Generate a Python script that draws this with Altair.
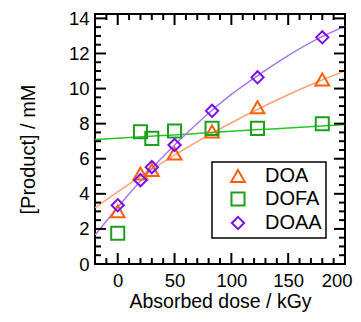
import altair as alt
import pandas as pd

# ---- data ----
series = ["DOA", "DOFA", "DOAA"]
dose = [0, 20, 30, 50, 83, 123, 180]
doa = [3.0, 5.15, 5.35, 6.3, 7.55, 8.93, 10.52]
dofa = [1.75, 7.54, 7.16, 7.58, 7.73, 7.73, 8.0]
doaa = [3.35, 4.78, 5.52, 6.78, 8.73, 10.64, 12.92]

fit_x = [-20, 0, 25, 50, 75, 100, 125, 150, 175, 200]
fit_doa = [3.2, 4.11, 5.19, 6.21, 7.16, 8.05, 8.88, 9.65, 10.36, 11.0]
fit_dofa = [7.09, 7.17, 7.27, 7.36, 7.46, 7.56, 7.66, 7.75, 7.85, 7.95]
fit_doaa = [1.65, 3.24, 5.09, 6.78, 8.31, 9.67, 10.82, 11.88, 12.8, 13.55]

x_labels = [0, 50, 100, 150, 200]
y_labels = [0, 2, 4, 6, 8, 10, 12, 14]
x_major = [0, 50, 100, 150]
x_minor = [v for v in range(-10, 200, 10) if v % 50 != 0]
y_major = [2, 4, 6, 8, 10, 12, 14]
y_minor = [v / 2 for v in range(1, 29) if v % 4 != 0]

marker_colors = ["#FF5F0A", "#1E9E1E", "#7A10F0"]
line_colors = ["#FFA27A", "#22C822", "#A57AF0"]
shapes = ["triangle-up", "square", "diamond"]
sizes = [190, 150, 560]

FONT = "Liberation Sans"
W, H = 250, 250

xscale = alt.Scale(domain=[-20, 200], nice=False, zero=False)
yscale = alt.Scale(domain=[0, 14.25], nice=False, zero=False)

xaxis = alt.Axis(values=x_labels, title="Absorbed dose / kGy",
                 tickSize=0, domain=False, grid=False, labelPadding=7,
                 labelFontSize=18.5, titleFontSize=19.5, labelFont=FONT, titleFont=FONT,
                 labelColor="black", titleColor="black", titleFontWeight="normal",
                 titlePadding=3, labelFlush=True, labelFlushOffset=7)
yaxis = alt.Axis(values=y_labels, title="[Product] / mM",
                 tickSize=0, domain=False, grid=False, labelPadding=6,
                 labelFontSize=18.5, titleFontSize=20, labelFont=FONT, titleFont=FONT,
                 labelColor="black", titleColor="black", titleFontWeight="normal",
                 titlePadding=30, titleY=H / 2 + 10, labelFlush=False)

pts = pd.DataFrame({
    "dose": dose * 3,
    "value": doa + dofa + doaa,
    "series": ["DOA"] * len(dose) + ["DOFA"] * len(dose) + ["DOAA"] * len(dose),
})

layers = []
for ys, col in zip([fit_doa, fit_dofa, fit_doaa], line_colors):
    d = pd.DataFrame({"dose": fit_x, "value": ys})
    layers.append(
        alt.Chart(d).mark_line(color=col, strokeWidth=1.5, interpolate="monotone", clip=True).encode(
            x=alt.X("dose:Q", scale=xscale, axis=xaxis),
            y=alt.Y("value:Q", scale=yscale, axis=yaxis),
        )
    )

points = alt.Chart(pts).mark_point(filled=False, strokeWidth=2, opacity=1).encode(
    x=alt.X("dose:Q", scale=xscale, axis=xaxis),
    y=alt.Y("value:Q", scale=yscale, axis=yaxis),
    color=alt.Color("series:N", scale=alt.Scale(domain=series, range=marker_colors), title=None),
    shape=alt.Shape("series:N", scale=alt.Scale(domain=series, range=shapes), title=None),
    size=alt.Size("series:N", scale=alt.Scale(domain=series, range=sizes), title=None),
)

def xticks(vals, length, top):
    d = pd.DataFrame({"dose": vals})
    y1, y2 = (0, length) if top else (H, H - length)
    return alt.Chart(d).mark_rule(color="black", strokeWidth=2).encode(
        x=alt.X("dose:Q", scale=xscale, axis=xaxis), y=alt.value(y1), y2=alt.value(y2))

def yticks(vals, length, right):
    d = pd.DataFrame({"value": vals})
    x1, x2 = (W, W - length) if right else (0, length)
    return alt.Chart(d).mark_rule(color="black", strokeWidth=2).encode(
        y=alt.Y("value:Q", scale=yscale, axis=yaxis), x=alt.value(x1), x2=alt.value(x2))

ticks = [
    xticks(x_major, 11, False), xticks(x_minor, 6, False),
    xticks(x_major, 11, True), xticks(x_minor, 6, True),
    yticks(y_major, 11, False), yticks(y_minor, 6, False),
    yticks(y_major, 11, True), yticks(y_minor, 6, True),
]

chart = alt.layer(*layers, *ticks, points).properties(
    width=W, height=H,
    autosize=alt.AutoSizeParams(type="none"),
    padding={"left": 87, "top": 6, "right": 8, "bottom": 50},
).configure_view(
    stroke="black", strokeWidth=2
).configure_legend(
    orient="none", legendX=117, legendY=148,
    strokeColor="black", strokeWidth=1.5, fillColor="white",
    padding=4, labelFontSize=20, labelFont=FONT, labelColor="black",
    symbolStrokeWidth=2, rowPadding=2, symbolOffset=12, labelOffset=17,
)

chart.save("out.html", embed_options={"renderer": "svg", "actions": False})
